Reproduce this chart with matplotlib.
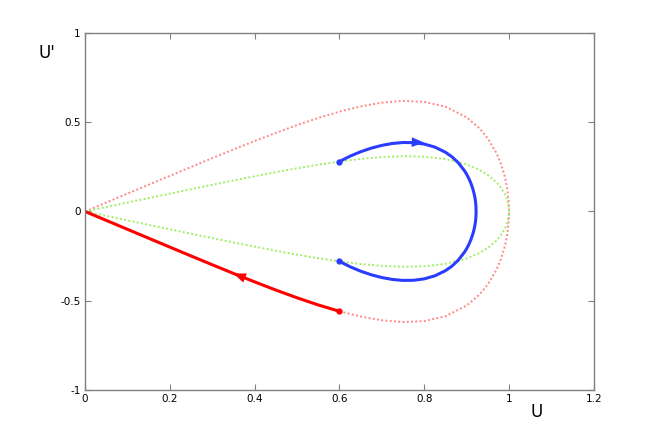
import numpy as np
import matplotlib
matplotlib.use('Agg')
import matplotlib.pyplot as plt

# values (upper branches; lower branches are mirrored)
u_sep = [0, 0.05, 0.1, 0.15, 0.2, 0.25, 0.3, 0.35, 0.4, 0.45, 0.5, 0.55, 0.6, 0.65,
         0.7, 0.75, 0.8, 0.85, 0.9, 0.93, 0.95, 0.97, 0.98, 0.99, 0.995, 0.999, 1.0]
v_red = [0, 0.05, 0.1, 0.15, 0.1998, 0.2495, 0.2988, 0.3474, 0.3948, 0.4407, 0.4841,
         0.5242, 0.5598, 0.5891, 0.6102, 0.6201, 0.6147, 0.5877, 0.5278, 0.4668, 0.4092,
         0.3285, 0.2730, 0.1965, 0.1404, 0.0631, 0]
v_green = [0, 0.025, 0.05, 0.075, 0.0999, 0.1248, 0.1494, 0.1737, 0.1974, 0.2204, 0.2421,
           0.2621, 0.2799, 0.2946, 0.3051, 0.3101, 0.3074, 0.2939, 0.2639, 0.2334, 0.2046,
           0.1643, 0.1365, 0.0983, 0.0702, 0.0316, 0]

u_blue = [0.6, 0.625, 0.65, 0.675, 0.7, 0.725, 0.75, 0.775, 0.8, 0.825, 0.85, 0.865,
          0.88, 0.895, 0.9, 0.905, 0.91, 0.915, 0.918, 0.92, 0.921, 0.922, 0.9223]
v_blue = [0.2799, 0.3099, 0.3348, 0.3550, 0.3706, 0.3813, 0.3867, 0.3859, 0.3780, 0.3610,
          0.3322, 0.3072, 0.2739, 0.2281, 0.2087, 0.1861, 0.1585, 0.1239, 0.0962, 0.0710,
          0.0540, 0.028, 0]

# red trajectory: lower branch of the outer curve from U=0.6 back to the origin
u_red = [0.6, 0.55, 0.5, 0.45, 0.4, 0.35, 0.3, 0.25, 0.2, 0.15, 0.1, 0.05, 0]
v_red_traj = [-0.5598, -0.5242, -0.4841, -0.4407, -0.3948, -0.3474, -0.2988, -0.2495,
              -0.1998, -0.15, -0.1, -0.05, 0]

xticks = [0, 0.2, 0.4, 0.6, 0.8, 1, 1.2]
yticks = [-1, -0.5, 0, 0.5, 1]

def closed(u, v):
    u = np.asarray(u, float); v = np.asarray(v, float)
    return np.r_[u, u[::-1]], np.r_[v, -v[::-1]]

fig = plt.figure(figsize=(6.54, 4.36), dpi=100)
ax = fig.add_axes([0.13, 0.106, 0.778, 0.818])

xr, yr = closed(u_sep, v_red)
xg, yg = closed(u_sep, v_green)
ax.plot(xr, yr, color='#ff8888', ls=(0, (1, 1.2)), lw=1.4)
ax.plot(xg, yg, color='#a0ee66', ls=(0, (1, 1.2)), lw=1.4)

xb, yb = closed(u_blue, v_blue)
ax.plot(xb, yb, color='#2a3cff', lw=2.2, solid_capstyle='round', solid_joinstyle='round')
ax.plot([xb[0], xb[-1]], [yb[0], yb[-1]], 'o', color='#2a3cff', ms=3.5)
ax.plot(u_red, v_red_traj, color='#ff0000', lw=2.2, solid_capstyle='round')
ax.plot(u_red[0], v_red_traj[0], 'o', color='#ff0000', ms=3.5)

# arrow heads along the trajectories
ib = 8
ax.annotate('', xy=(u_blue[ib], v_blue[ib] + 0.008), xytext=(u_blue[ib - 2], v_blue[ib - 2] + 0.004),
            arrowprops=dict(arrowstyle='-|>,head_length=0.9,head_width=0.35', color='#2a3cff', lw=0,
                            mutation_scale=10, shrinkA=0, shrinkB=0))
ir = 5
ax.annotate('', xy=(u_red[ir], v_red_traj[ir]), xytext=(u_red[ir - 1], v_red_traj[ir - 1]),
            arrowprops=dict(arrowstyle='-|>,head_length=0.9,head_width=0.35', color='#ff0000', lw=0,
                            mutation_scale=10, shrinkA=0, shrinkB=0))

ax.set_xlim(0, 1.2)
ax.set_ylim(-1, 1)
ax.set_xticks(xticks)
ax.set_xticklabels(['0', '0.2', '0.4', '0.6', '0.8', '1', '1.2'])
ax.set_yticks(yticks)
ax.set_yticklabels(['-1', '-0.5', '0', '0.5', '1'])
ax.tick_params(direction='in', length=4, width=0.8, color='#808080', labelsize=7.5,
               top=True, right=True, pad=3)
for s in ax.spines.values():
    s.set_color('#808080'); s.set_linewidth(1.0)

fig.text(537 / 654, 1 - 412 / 436, 'U', fontsize=12, ha='center', va='center')
fig.text(47 / 654, 1 - 53 / 436, "U'", fontsize=12, ha='center', va='center')

fig.savefig('out.png', dpi=100)
